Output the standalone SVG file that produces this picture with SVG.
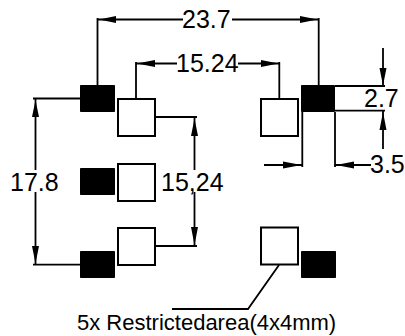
<svg xmlns="http://www.w3.org/2000/svg" width="405" height="336" viewBox="0 0 405 336">
<style>
.p{fill:#000;stroke:#000;stroke-width:1;stroke-linejoin:round}
.o{fill:#fff;stroke:#000;stroke-width:2}
.l{fill:none;stroke:#000;stroke-width:1.800}
.a{fill:#000}
text{font-family:"Liberation Sans",Arial,sans-serif;fill:#000}
.d{font-size:25px}
.b{font-size:22px}
</style>
<rect width="405" height="336" fill="#fff"/>
<g id="connectors">
<path class="l" d="M97.500 85V18M97.500 19.500H183M232 19.500H318.700M318.700 18V85"/>
<path class="l" d="M136 98V62M136 63.500H177M238 63.500H279.300M279.300 62V98"/>
<path class="l" d="M33 98.500H80M35.500 98.500V170M35.500 192V264.700M33 264.700H80"/>
<path class="l" d="M155 117H197M194.500 117V170M194.500 192V246M155 246H197"/>
<path class="l" d="M335 86H385M335 110.700H385M383 48V86M383 111V149"/>
<path class="l" d="M302.300 112V167M335 112V167M264 165H302M335 165H371"/>
<path class="l" d="M279 265L248 309H172"/>
<path class="a" d="M99 19.500L116 16V23Z M317.500 19.500L300 16V23Z M137 63.500L155 60V67Z M278.500 63.500L261 60V67Z M35.500 100L32 117H39Z M35.500 263.500L32 246H39Z M194.500 118.500L191 136H198Z M194.500 245L191 227H198Z M383 85.500L379.500 68H386.500Z M383 112L379.500 130H386.500Z M301.500 165L283 161.500V168.500Z M336 165L354 161.500V168.500Z"/>
</g>
<g id="pad-tl"><rect class="p" x="80.500" y="85.500" width="34" height="26"/><rect class="o" x="118" y="99" width="37" height="37"/></g>
<g id="pad-ml"><rect class="p" x="80.500" y="168.500" width="34" height="26"/><rect class="o" x="118" y="164" width="37" height="37"/></g>
<g id="pad-bl"><rect class="p" x="80.500" y="251.500" width="34" height="26"/><rect class="o" x="118" y="228" width="37" height="37"/></g>
<g id="pad-tr"><rect class="o" x="261" y="99" width="37" height="37"/><rect class="p" x="301.500" y="85.500" width="33" height="26"/></g>
<g id="pad-br"><rect class="o" x="261" y="227.500" width="37" height="37"/><rect class="p" x="301.500" y="251.500" width="34" height="26"/></g>
<g id="labels">
<text class="d" x="182" y="28">23.7</text>
<text class="d" x="176" y="72">15.24</text>
<text class="d" x="10" y="191">17.8</text>
<text class="d" x="161" y="191">15,24</text>
<text class="d" x="364" y="107">2.7</text>
<text class="d" x="370" y="173">3.5</text>
<text class="b" x="77" y="330">5x Restrictedarea(4x4mm)</text>
</g>
</svg>
